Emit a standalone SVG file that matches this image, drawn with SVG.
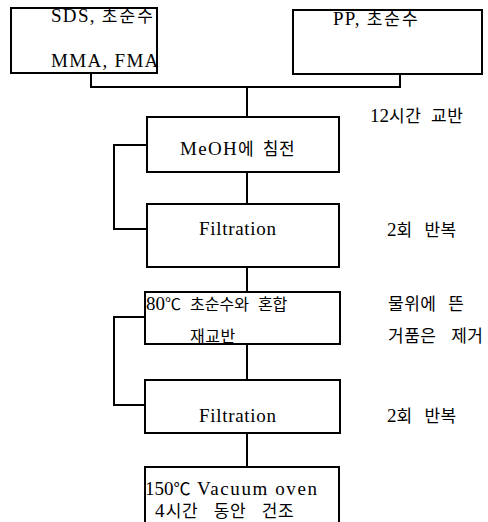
<svg xmlns="http://www.w3.org/2000/svg" width="488" height="522" viewBox="0 0 488 522">
<style>
.box{fill:#fff;stroke:#000;stroke-width:2}
.ln{fill:none;stroke:#000;stroke-width:2}
text{font-family:"Liberation Serif","Noto Sans CJK KR",serif;font-size:18px;fill:#000}
.l{font-size:19px;letter-spacing:1.3px}
.k{font-size:17px;letter-spacing:0.5px}
</style>
<rect width="488" height="522" fill="#fff"/>
<g id="connectors">
<polyline class="ln" points="91,73 91,87 400,87 400,74"/>
<line class="ln" x1="247" y1="87" x2="247" y2="117"/>
<line class="ln" x1="247" y1="172" x2="247" y2="204"/>
<polyline class="ln" points="147,145 114,145 114,229 147,229"/>
<line class="ln" x1="247" y1="267" x2="247" y2="292"/>
<line class="ln" x1="247" y1="344" x2="247" y2="380"/>
<polyline class="ln" points="145,317 114,317 114,405 145,405"/>
<line class="ln" x1="247" y1="433" x2="247" y2="467"/>
</g>
<g id="n1"><rect class="box" x="11" y="8" width="146" height="65"/>
<text x="51" y="22"><tspan class="l">SDS, </tspan><tspan class="k" style="letter-spacing:2px">초순수</tspan></text>
<text class="l" x="51" y="67">MMA, FMA</text></g>
<g id="n2"><rect class="box" x="293" y="10" width="189" height="64"/>
<text x="333" y="25"><tspan class="l">PP, </tspan><tspan class="k" style="letter-spacing:2px">초순수</tspan></text></g>
<g id="n3"><rect class="box" x="147" y="117" width="192" height="55"/>
<text x="180" y="155"><tspan class="l">MeOH</tspan><tspan class="k" word-spacing="4">에 침전</tspan></text></g>
<g id="n4"><rect class="box" x="147" y="204" width="192" height="63"/>
<text class="l" x="199" y="235" style="letter-spacing:0.7px">Filtration</text></g>
<g id="n5"><rect class="box" x="145" y="292" width="195" height="52"/>
<text x="146" y="310"><tspan class="l" style="letter-spacing:0">80</tspan><tspan class="k" style="font-size:16px;letter-spacing:0" word-spacing="5">℃ 초순수와 혼합</tspan></text>
<text class="k" x="190" y="342" style="font-size:16px">재교반</text></g>
<g id="n6"><rect class="box" x="145" y="380" width="195" height="53"/>
<text class="l" x="199" y="422" style="letter-spacing:0.7px">Filtration</text></g>
<g id="n7"><rect class="box" x="145" y="467" width="194" height="60"/>
<text x="145" y="495"><tspan class="l" style="letter-spacing:0">150</tspan><tspan class="k">℃</tspan><tspan class="l" style="letter-spacing:1.6px"> Vacuum oven</tspan></text>
<text x="155" y="517"><tspan class="l">4</tspan><tspan class="k" word-spacing="11">시간 동안 건조</tspan></text></g>
<g id="labels">
<text x="370" y="122"><tspan class="l" style="letter-spacing:0">12</tspan><tspan class="k" word-spacing="5">시간 교반</tspan></text>
<text x="387" y="236"><tspan class="l" style="letter-spacing:0">2</tspan><tspan class="k" word-spacing="7">회 반복</tspan></text>
<text class="k" x="388" y="310" word-spacing="7">물위에 뜬</text>
<text class="k" x="388" y="342" word-spacing="10">거품은 제거</text>
<text x="387" y="422"><tspan class="l" style="letter-spacing:0">2</tspan><tspan class="k" word-spacing="7">회 반복</tspan></text>
</g>
</svg>
